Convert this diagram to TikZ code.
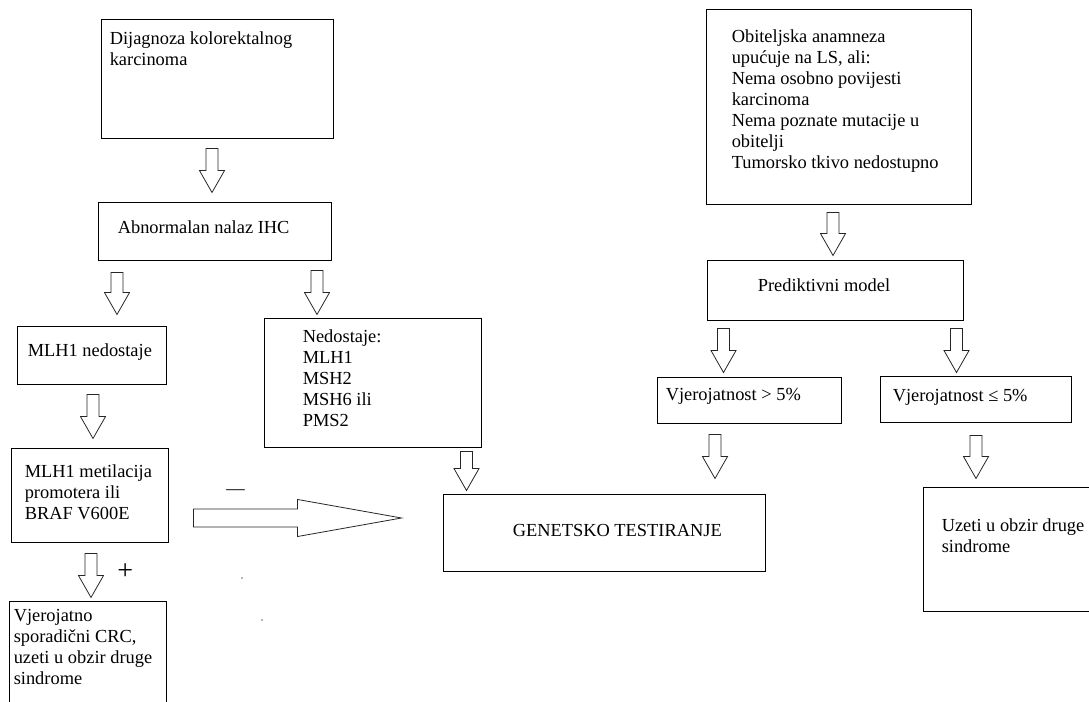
\documentclass[tikz,border=0pt]{standalone}
\usepackage{fontspec}
\setmainfont{Liberation Serif}
\usetikzlibrary{calc,fit}

\begin{document}
\begin{tikzpicture}[x=0.75pt,y=-0.75pt]
    \tikzset{
      box/.style={draw, rectangle, inner sep=0pt, line width=0.75pt},
      txt/.style={anchor=base west, align=left, inner sep=0pt, font=\fontsize{13.8}{15.75}\selectfont},
      dot/.style={fill=black!60},
      downfat/.style={draw=black!85, line width=0.6pt, to path={let \p1=(\tikztostart), \p2=(\tikztotarget) in
        (\x1-4.5pt,\y1) -- (\x1-4.5pt,\y2+16.5pt) -- (\x1-9.4pt,\y2+16.5pt) -- (\x1,\y2)
        -- (\x1+9.4pt,\y2+16.5pt) -- (\x1+4.5pt,\y2+16.5pt) -- (\x1+4.5pt,\y1) -- cycle}},
      rightfat/.style={draw=black!85, line width=0.6pt, to path={let \p1=(\tikztostart), \p2=(\tikztotarget) in
        (\x1,\y1+6.75pt) -- (\x2-78pt,\y1+6.75pt) -- (\x2-78pt,\y1+13.9pt) -- (\x2,\y1)
        -- (\x2-78pt,\y1-13.9pt) -- (\x2-78pt,\y1-6.75pt) -- (\x1,\y1-6.75pt) -- cycle}}
    }
    \clip (0,0) rectangle (1089,702);

    \node [box, fit={(101,20) (333,139)}] (dij) {};
    \node [box, fit={(98,203) (331,261)}] (abn) {};
    \node [box, fit={(17,327) (166,384)}] (mlhn) {};
    \node [box, fit={(264,319) (481,447)}] (ned) {};
    \node [box, fit={(11,448) (168,542)}] (met) {};
    \node [box, fit={(9,601) (166,720)}] (spor) {};
    \node [box, fit={(443,494) (765,571)}] (gen) {};
    \node [box, fit={(706,10) (971,205)}] (obi) {};
    \node [box, fit={(707,261) (963,321)}] (pred) {};
    \node [box, fit={(657,377) (841,423)}] (vgt) {};
    \node [box, fit={(880,376) (1071,422)}] (vle) {};
    \node [box, fit={(923,487) (1100,611)}] (uz) {};

    \node [txt] (dijt) at ($(dij.north west)+(9,46)$) {Dijagnoza kolorektalnog\\karcinoma};
    \node [txt] (abnt) at ($(abn.north west)+(20,31)$) {Abnormalan nalaz IHC};
    \node [txt] (mlhnt) at ($(mlhn.north west)+(11,30)$) {MLH1 nedostaje};
    \node [txt] (nedt) at ($(ned.north west)+(39,108)$) {Nedostaje:\\MLH1\\MSH2\\MSH6 ili\\PMS2};
    \node [txt] (mett) at ($(met.north west)+(14,72)$) {MLH1 metilacija\\promotera ili\\BRAF V600E};
    \node [txt] (sport) at ($(spor.north west)+(5,84)$) {Vjerojatno\\sporadični CRC,\\uzeti u obzir druge\\sindrome};
    \node [txt] (gent) at ($(gen.north west)+(70,43)$) {GENETSKO TESTIRANJE};
    \node [txt] (obit) at ($(obi.north west)+(26,159)$) {Obiteljska anamneza\\upućuje na LS, ali:\\Nema osobno povijesti\\karcinoma\\Nema poznate mutacije u\\obitelji\\Tumorsko tkivo nedostupno};
    \node [txt] (predt) at ($(pred.north west)+(51,31)$) {Prediktivni model};
    \node [txt] (vgtt) at ($(vgt.north west)+(9,24)$) {Vjerojatnost > 5\%};
    \node [txt] (vlet) at ($(vle.north west)+(13,26)$) {Vjerojatnost ≤ 5\%};
    \node [txt] (uzt) at ($(uz.north west)+(19,66)$) {Uzeti u obzir druge\\sindrome};
    \node [txt] (minus) at (226,494) {\textemdash};
    \node [txt, font=\fontsize{21}{21}\selectfont] (plus) at (117,579) {+};

    \draw [downfat] ($(dij.south)+(-5,9)$) to ($(abn.north)+(0,-10)$);
    \draw [downfat] ($(abn.south west)+(19.5,11)$) to ($(mlhn.north)+(0,-12)$);
    \draw [downfat] ($(abn.south east)+(-14.5,9)$) to ($(ned.north)+(0,-4)$);
    \draw [downfat] ($(mlhn.south)+(1.5,10)$) to ($(met.north)+(0,-9)$);
    \draw [downfat] ($(met.south)+(1.5,11)$) to ($(spor.north)+(0,-3)$);
    \draw [rightfat] ($(met.east)+(25,23)$) to ($(gen.west)+(-41,0)$);
    \draw [downfat] ($(ned.south east)+(-15,4)$) to ($(gen.north)+(0,-3)$);
    \draw [downfat] ($(obi.south)+(-5.5,7)$) to ($(pred.north)+(0,-5)$);
    \draw [downfat] ($(pred.south west)+(17,7)$) to ($(vgt.north)+(0,-4)$);
    \draw [downfat] ($(pred.south east)+(-7,7)$) to ($(vle.north)+(0,-3)$);
    \draw [downfat] ($(vgt.south)+(-34,11)$) to ($(gen.north)+(0,-15)$);
    \draw [downfat] ($(vle.south)+(0.5,13)$) to ($(uz.north)+(0,-8)$);

    \fill [dot] (242,578) circle (0.6pt);
    \fill [dot] (262,620) circle (0.6pt);
\end{tikzpicture}
\end{document}
